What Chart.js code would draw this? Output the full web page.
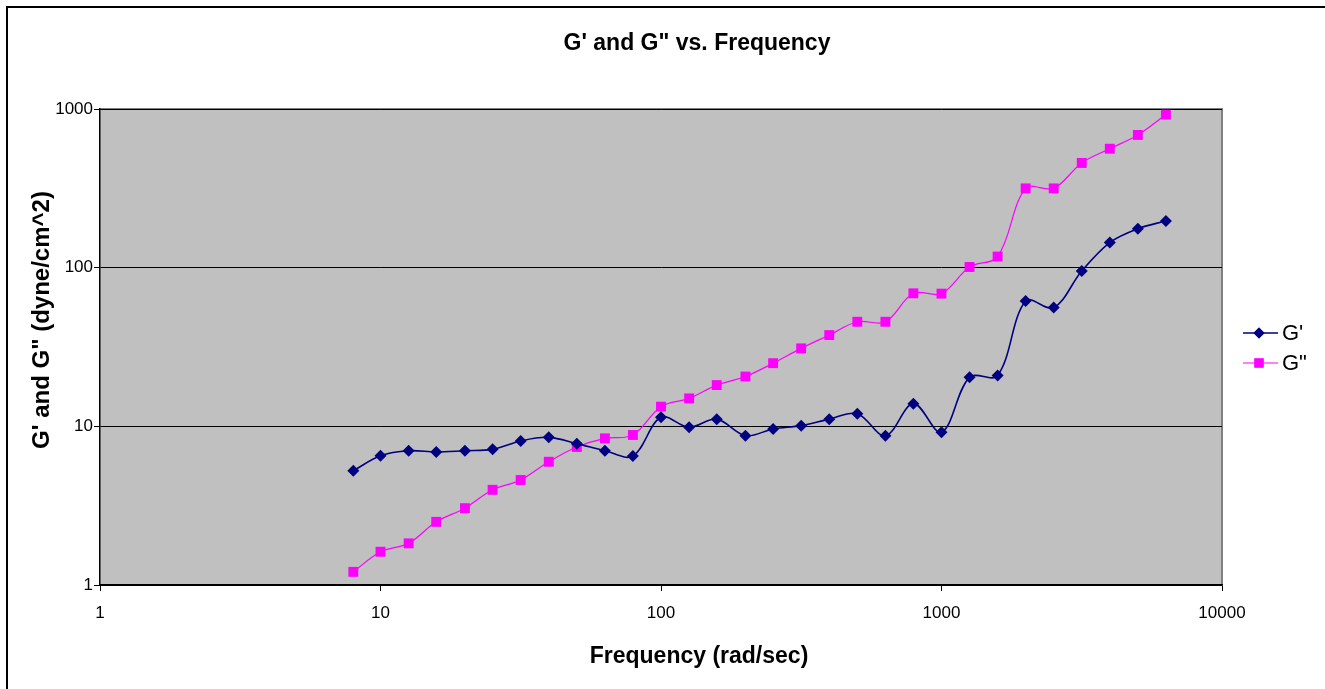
<!DOCTYPE html>
<html>
<head>
<meta charset="utf-8">
<script src="https://cdn.jsdelivr.net/npm/chart.js@4.4.1/dist/chart.umd.min.js"></script>
<style>
  html, body { margin: 0; padding: 0; background: #fff; }
  #wrap { position: relative; width: 1325px; height: 689px; }
  #frame { position: absolute; left: 6px; top: 6px; width: 1400px; height: 800px; border-left: 2px solid #000; border-top: 2px solid #000; box-sizing: border-box; pointer-events: none; }
  canvas { position: absolute; left: 0; top: 0; }
</style>
</head>
<body>
<div id="wrap">
  <canvas id="c" width="1325" height="689"></canvas>
  <div id="frame"></div>
</div>
<script>
// ---- data ----
const frequency = [8, 10, 12.6, 15.8, 20, 25.1, 31.6, 39.8, 50.1, 63.1, 79.4, 100, 126, 158, 200, 251, 316, 398, 501, 631, 794, 1000, 1259, 1585, 1995, 2512, 3162, 3981, 5012, 6310];
const gPrime = [5.25, 6.53, 7.02, 6.89, 7.02, 7.16, 8.09, 8.52, 7.78, 7.02, 6.50, 11.4, 9.86, 11.1, 8.73, 9.63, 10.1, 11.1, 12.0, 8.73, 13.9, 9.17, 20.4, 20.9, 61.6, 56.0, 95.3, 144, 176, 197];
const gDoublePrime = [1.21, 1.62, 1.83, 2.50, 3.05, 3.98, 4.59, 5.98, 7.41, 8.40, 8.82, 13.3, 15.0, 18.2, 20.6, 25.0, 31.0, 37.6, 45.6, 45.6, 68.9, 68.6, 101, 117.5, 316, 316, 457, 562, 686, 922];
const xTickValues = [1, 10, 100, 1000, 10000];
const yTickValues = [1, 10, 100, 1000];
const seriesNames = ["G'", 'G"'];
const chartTitle = 'G\' and G" vs. Frequency';
const xAxisTitle = 'Frequency (rad/sec)';
const yAxisTitle = 'G\' and G" (dyne/cm^2)';

const FONT = 'Arial, "Liberation Sans", sans-serif';
const NAVY = '#000080';
const MAGENTA = '#FF00FF';

const toPoints = (ys) => frequency.map((f, i) => ({ x: f, y: ys[i] }));

const decorPlugin = {
  id: 'decor',
  beforeDraw(chart) {
    const { ctx, chartArea: a } = chart;
    ctx.save();
    ctx.fillStyle = '#C0C0C0';
    ctx.fillRect(a.left, a.top, a.right - a.left, a.bottom - a.top);
    ctx.strokeStyle = '#808080';
    ctx.lineWidth = 2;
    ctx.beginPath();
    ctx.moveTo(a.left, a.top);
    ctx.lineTo(a.right, a.top);
    ctx.lineTo(a.right, a.bottom);
    ctx.stroke();
    ctx.restore();
  },
  afterDraw(chart) {
    const { ctx } = chart;
    ctx.save();
    ctx.fillStyle = '#000';
    ctx.textBaseline = 'middle';
    ctx.textAlign = 'center';
    // title
    ctx.font = 'bold 23px ' + FONT;
    ctx.fillText(chartTitle, 697, 44);
    // x axis title
    ctx.fillText(xAxisTitle, 699, 657);
    // y axis title
    ctx.save();
    ctx.font = 'bold 24px ' + FONT;
    ctx.translate(42, 320);
    ctx.rotate(-Math.PI / 2);
    ctx.fillText(yAxisTitle, 0, 0);
    ctx.restore();
    // legend
    const items = [
      { label: seriesNames[0], color: NAVY, style: 'rectRot', r: 5.5, y: 333, lw: 1.5 },
      { label: seriesNames[1], color: MAGENTA, style: 'rect', r: 6.5, y: 363, lw: 1 }
    ];
    items.forEach(it => {
      ctx.strokeStyle = it.color;
      ctx.lineWidth = it.lw;
      ctx.beginPath();
      ctx.moveTo(1243, it.y);
      ctx.lineTo(1278, it.y);
      ctx.stroke();
      ctx.fillStyle = it.color;
      Chart.helpers.drawPoint(ctx, { pointStyle: it.style, radius: it.r, borderWidth: 0 }, 1259, it.y);
      ctx.fill();
      ctx.fillStyle = '#000';
      ctx.font = '22px ' + FONT;
      ctx.textAlign = 'left';
      ctx.fillText(it.label, 1282, it.y + 1);
    });
    ctx.restore();
  }
};

new Chart(document.getElementById('c'), {
  type: 'scatter',
  data: {
    datasets: [
      {
        label: seriesNames[0],
        data: toPoints(gPrime),
        showLine: true,
        borderColor: NAVY,
        backgroundColor: NAVY,
        borderWidth: 1.6,
        pointStyle: 'rectRot',
        pointRadius: 6,
        pointBorderWidth: 0,
        pointHoverRadius: 6,
        tension: 0.35
      },
      {
        label: seriesNames[1],
        data: toPoints(gDoublePrime),
        showLine: true,
        borderColor: MAGENTA,
        backgroundColor: MAGENTA,
        borderWidth: 1.2,
        pointStyle: 'rect',
        pointRadius: 7,
        pointBorderWidth: 0,
        pointHoverRadius: 7,
        tension: 0.35
      }
    ]
  },
  options: {
    responsive: false,
    animation: false,
    events: [],
    layout: { padding: { top: 109, right: 103, left: 0, bottom: 0 } },
    plugins: {
      legend: { display: false },
      title: { display: false },
      tooltip: { enabled: false }
    },
    scales: {
      x: {
        type: 'logarithmic',
        min: 1,
        max: 10000,
        afterBuildTicks: (s) => { s.ticks = xTickValues.map(v => ({ value: v })); },
        afterFit: (s) => { s.height = 104; },
        ticks: {
          color: '#000',
          font: { family: FONT, size: 17 },
          padding: 12,
          maxRotation: 0,
          autoSkip: false,
          callback: (v) => String(v)
        },
        grid: { drawOnChartArea: false, drawTicks: true, tickLength: 6, color: '#000', lineWidth: 1 },
        border: { color: '#000', width: 1.5 }
      },
      y: {
        type: 'logarithmic',
        min: 1,
        max: 1000,
        afterBuildTicks: (s) => { s.ticks = yTickValues.map(v => ({ value: v })); },
        afterFit: (s) => { s.width = 100; },
        ticks: {
          color: '#000',
          font: { family: FONT, size: 17 },
          padding: 1,
          autoSkip: false,
          callback: (v) => String(v)
        },
        grid: { drawOnChartArea: true, drawTicks: true, tickLength: 6, color: '#000', lineWidth: 1 },
        border: { color: '#000', width: 1.5 }
      }
    }
  },
  plugins: [decorPlugin]
});
</script>
</body>
</html>
